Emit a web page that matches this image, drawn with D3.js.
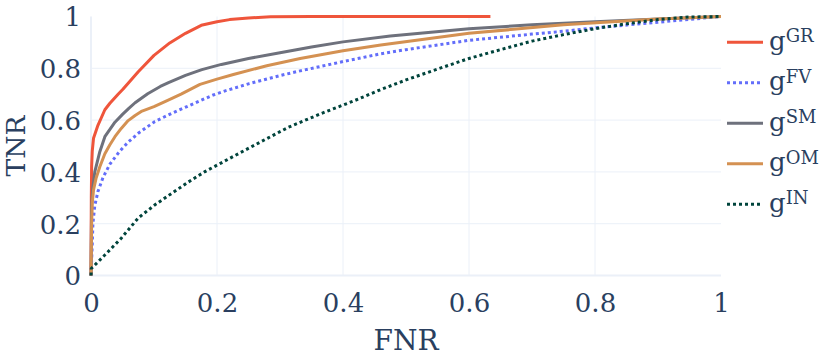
<!DOCTYPE html>
<html>
<head>
<meta charset="utf-8">
<script src="https://cdn.jsdelivr.net/npm/d3@7"></script>
<style>
  html, body { margin: 0; padding: 0; background: #fff; }
  svg { display: block; }
  svg text { font-family: "DejaVu Serif", serif; fill: #2a3f5f; }
</style>
</head>
<body>
<svg id="chart" width="831" height="356"></svg>
<script>
// ---- data ----
const seriesNames = ["GR", "FV", "SM", "OM", "IN"];
const xTicks = [0, 0.2, 0.4, 0.6, 0.8, 1];
const yTicks = [0, 0.2, 0.4, 0.6, 0.8, 1];
const xTickLabels = ["0", "0.2", "0.4", "0.6", "0.8", "1"];
const yTickLabels = ["0", "0.2", "0.4", "0.6", "0.8", "1"];
const xTitle = "FNR";
const yTitle = "TNR";

const gGR = [[0,0],[0.0005,0.3],[0.001,0.42],[0.002,0.48],[0.004,0.53],[0.011,0.58],[0.022,0.64],[0.03,0.665],[0.043,0.70],[0.051,0.72],[0.075,0.787],[0.1,0.85],[0.125,0.898],[0.15,0.935],[0.175,0.966],[0.2,0.98],[0.22,0.988],[0.25,0.994],[0.285,0.999],[0.35,1],[0.634,1]];
const gFV = [[0,0],[0.001,0.06],[0.002,0.12],[0.003,0.2],[0.006,0.27],[0.011,0.324],[0.019,0.378],[0.03,0.43],[0.045,0.478],[0.059,0.515],[0.075,0.549],[0.101,0.594],[0.128,0.626],[0.154,0.654],[0.194,0.697],[0.213,0.713],[0.25,0.74],[0.3,0.772],[0.332,0.79],[0.4,0.826],[0.46,0.856],[0.5,0.872],[0.6,0.908],[0.7,0.932],[0.75,0.943],[0.8,0.956],[0.9,0.978],[1,1]];
const gSM = [[0,0],[0.0005,0.15],[0.001,0.27],[0.003,0.34],[0.006,0.40],[0.014,0.478],[0.022,0.536],[0.038,0.592],[0.05,0.622],[0.06,0.645],[0.07,0.667],[0.09,0.702],[0.11,0.73],[0.123,0.745],[0.15,0.773],[0.176,0.795],[0.207,0.815],[0.25,0.838],[0.3,0.86],[0.35,0.882],[0.4,0.902],[0.475,0.925],[0.6,0.953],[0.7,0.968],[0.8,0.98],[0.9,0.99],[1,1]];
const gOM = [[0,0],[0.0005,0.1],[0.001,0.2],[0.002,0.28],[0.004,0.33],[0.008,0.375],[0.014,0.42],[0.022,0.47],[0.03,0.505],[0.038,0.536],[0.048,0.568],[0.059,0.598],[0.07,0.618],[0.081,0.635],[0.1,0.652],[0.12,0.674],[0.143,0.70],[0.173,0.738],[0.2,0.758],[0.226,0.776],[0.279,0.81],[0.332,0.838],[0.4,0.868],[0.46,0.89],[0.6,0.935],[0.75,0.968],[0.9,0.99],[1,1]];
const gIN = [[0,0],[0.0005,0.027],[0.022,0.079],[0.048,0.144],[0.075,0.222],[0.101,0.272],[0.128,0.317],[0.154,0.36],[0.18,0.40],[0.207,0.435],[0.26,0.504],[0.313,0.572],[0.366,0.626],[0.418,0.675],[0.46,0.718],[0.5,0.755],[0.55,0.797],[0.6,0.838],[0.65,0.872],[0.7,0.905],[0.75,0.93],[0.8,0.953],[0.85,0.972],[0.9,0.988],[0.95,0.998],[1,1]];

const seriesData = [gGR, gFV, gSM, gOM, gIN];
const seriesColors = ["#ef553b", "#636efa", "#6e717c", "#d49152", "#00443c"];
const seriesDash = [null, "3,3", null, null, "3,3"];

// ---- layout ----
const svg = d3.select("#chart");
const x = d3.scaleLinear().domain([0, 1]).range([91, 721]);
const y = d3.scaleLinear().domain([0, 1]).range([275.5, 16.5]);
const gridColor = "#ebf0f8";

// grid
const grid = svg.append("g");
xTicks.filter(t => t > 0 && t < 1).forEach(t => {
  grid.append("line").attr("x1", x(t)).attr("x2", x(t)).attr("y1", y(0)).attr("y2", y(1))
    .attr("stroke", gridColor).attr("stroke-width", 1);
});
yTicks.filter(t => t > 0 && t < 1).forEach(t => {
  grid.append("line").attr("x1", x(0)).attr("x2", x(1)).attr("y1", y(t)).attr("y2", y(t))
    .attr("stroke", gridColor).attr("stroke-width", 1);
});
// zero lines
grid.append("line").attr("x1", x(0)).attr("x2", x(1)).attr("y1", y(0)).attr("y2", y(0))
  .attr("stroke", gridColor).attr("stroke-width", 2);
grid.append("line").attr("x1", x(0)).attr("x2", x(0)).attr("y1", y(0)).attr("y2", y(1))
  .attr("stroke", gridColor).attr("stroke-width", 2);

// axes (labels only)
const xAxis = d3.axisBottom(x).tickValues(xTicks).tickFormat((d, i) => xTickLabels[i]).tickSize(0).tickPadding(0);
const xg = svg.append("g").attr("transform", `translate(0,${y(0)})`).call(xAxis)
  .attr("font-family", null).attr("font-size", null);
xg.select(".domain").remove();
xg.selectAll("text").attr("dy", null).attr("y", 36).attr("fill", null)
  .style("font-size", "26px").style("font-family", '"DejaVu Serif", serif').style("fill", "#2a3f5f");

const yAxis = d3.axisLeft(y).tickValues(yTicks).tickFormat((d, i) => yTickLabels[i]).tickSize(0).tickPadding(0);
const yg = svg.append("g").attr("transform", `translate(${x(0)},0)`).call(yAxis)
  .attr("font-family", null).attr("font-size", null);
yg.select(".domain").remove();
yg.selectAll("text").attr("x", -10).attr("dy", "0.36em").attr("fill", null)
  .style("font-size", "26px").style("font-family", '"DejaVu Serif", serif').style("fill", "#2a3f5f");

// titles
svg.append("text").attr("x", (x(0) + x(1)) / 2).attr("y", 350).attr("text-anchor", "middle")
  .style("font-size", "28px").text(xTitle);
svg.append("text").attr("transform", `translate(25,${(y(0) + y(1)) / 2}) rotate(-90)`)
  .attr("text-anchor", "middle").style("font-size", "26.5px").text(yTitle);

// lines
const line = d3.line().x(d => x(d[0])).y(d => y(d[1]));
seriesData.forEach((data, i) => {
  svg.append("path").datum(data).attr("d", line)
    .attr("fill", "none").attr("stroke", seriesColors[i]).attr("stroke-width", 3)
    .attr("stroke-dasharray", seriesDash[i]).attr("stroke-linejoin", "round");
});

// legend
const legend = svg.append("g");
seriesNames.forEach((name, i) => {
  const ly = 42.3 + i * 40.5;
  legend.append("line").attr("x1", 727).attr("x2", 763).attr("y1", ly).attr("y2", ly)
    .attr("stroke", seriesColors[i]).attr("stroke-width", 3).attr("stroke-dasharray", seriesDash[i]);
  const t = legend.append("text").attr("x", 769).attr("y", ly + 7.5).style("font-size", "26px");
  t.append("tspan").text("g");
  t.append("tspan").style("font-size", "18px").attr("dy", -7.5).text(name);
});
</script>
</body>
</html>
